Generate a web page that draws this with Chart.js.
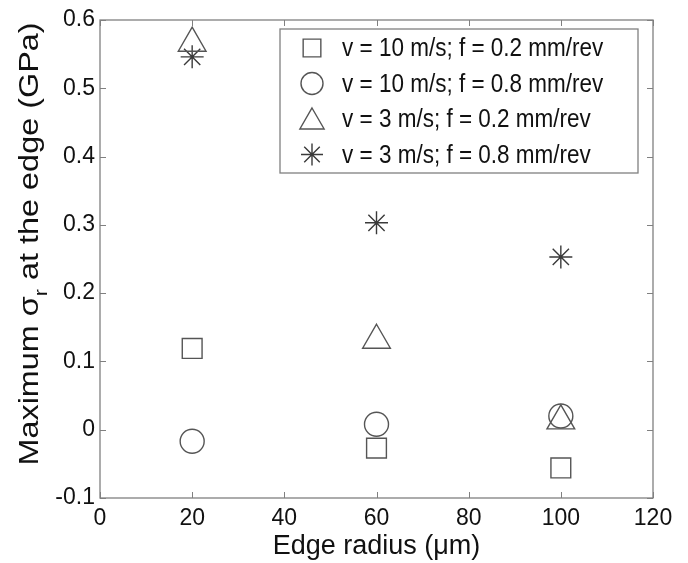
<!DOCTYPE html>
<html>
<head>
<meta charset="utf-8">
<script src="https://cdn.jsdelivr.net/npm/chart.js@4.4.1/dist/chart.umd.min.js"></script>
<style>
  html, body { margin: 0; padding: 0; background: #fff; }
  #wrap { width: 688px; height: 563px; position: relative; }
</style>
</head>
<body>
<div id="wrap"><canvas id="c" width="688" height="563"></canvas></div>
<script>
// ---- data ----
const edgeRadius = [20, 60, 100];
const seriesLabels = [
  'v = 10 m/s; f = 0.2 mm/rev',
  'v = 10 m/s; f = 0.8 mm/rev',
  'v = 3 m/s; f = 0.2 mm/rev',
  'v = 3 m/s; f = 0.8 mm/rev'
];
const v10f02 = [0.119, -0.027, -0.056];
const v10f08 = [-0.017, 0.008, 0.020];
const v3f02  = [0.566, 0.131, 0.013];
const v3f08  = [0.546, 0.303, 0.253];
const xTicks = [0, 20, 40, 60, 80, 100, 120];
const yTicks = [-0.1, 0, 0.1, 0.2, 0.3, 0.4, 0.5, 0.6];
const xTitle = 'Edge radius (\u03BCm)';
const yTitleParts = ['Maximum \u03C3', 'r', ' at the edge (GPa)'];

const FONT = 'Arial, "Liberation Sans", Helvetica, sans-serif';
const markerColor = '#555555';
const textColor = '#111111';
const axisColor = '#808080';

function toPoints(vals) { return edgeRadius.map((x, i) => ({ x: x, y: vals[i] })); }

const styles = [
  { pointStyle: 'rect', r: 14 },
  { pointStyle: 'circle', r: 12 },
  { pointStyle: 'triangle', r: 16 },
  { pointStyle: 'star', r: 11.5 }
];
const seriesVals = [v10f02, v10f08, v3f02, v3f08];

const datasets = seriesVals.map((vals, i) => ({
  label: seriesLabels[i],
  data: toPoints(vals),
  showLine: false,
  pointStyle: styles[i].pointStyle,
  pointRadius: styles[i].r,
  pointHoverRadius: styles[i].r,
  pointBorderColor: i === 3 ? '#3a3a3a' : markerColor,
  pointBackgroundColor: 'rgba(0,0,0,0)',
  pointBorderWidth: 1.4,
  borderColor: i === 3 ? '#3a3a3a' : markerColor,
  backgroundColor: 'rgba(0,0,0,0)'
}));

function drawMarker(ctx, style, r, x, y) {
  ctx.beginPath();
  if (style === 'circle') { ctx.arc(x, y, r, 0, Math.PI * 2); }
  else if (style === 'rect') { const s = r * Math.SQRT1_2; ctx.rect(x - s, y - s, 2 * s, 2 * s); }
  else if (style === 'triangle') {
    ctx.moveTo(x, y - r);
    ctx.lineTo(x + r * Math.cos(Math.PI / 6), y + r / 2);
    ctx.lineTo(x - r * Math.cos(Math.PI / 6), y + r / 2);
    ctx.closePath();
  } else if (style === 'star') {
    const d = r * Math.SQRT1_2;
    ctx.moveTo(x - r, y); ctx.lineTo(x + r, y);
    ctx.moveTo(x, y - r); ctx.lineTo(x, y + r);
    ctx.moveTo(x - d, y - d); ctx.lineTo(x + d, y + d);
    ctx.moveTo(x - d, y + d); ctx.lineTo(x + d, y - d);
  }
  ctx.stroke();
}

const framePlugin = {
  id: 'frame',
  afterDraw(chart) {
    const ctx = chart.ctx;
    const a = chart.chartArea;
    const xs = chart.scales.x, ys = chart.scales.y;
    ctx.save();
    ctx.strokeStyle = axisColor;
    ctx.lineWidth = 1.3;
    ctx.strokeRect(a.left, a.top, a.right - a.left, a.bottom - a.top);
    const tl = 6;
    ctx.beginPath();
    xTicks.forEach(v => {
      const px = Math.round(xs.getPixelForValue(v)) + 0.5;
      ctx.moveTo(px, a.bottom); ctx.lineTo(px, a.bottom - tl);
      ctx.moveTo(px, a.top); ctx.lineTo(px, a.top + tl);
    });
    yTicks.forEach(v => {
      const py = Math.round(ys.getPixelForValue(v)) + 0.5;
      ctx.moveTo(a.left, py); ctx.lineTo(a.left + tl, py);
      ctx.moveTo(a.right, py); ctx.lineTo(a.right - tl, py);
    });
    ctx.lineWidth = 1;
    ctx.stroke();

    // legend box (inside plot, upper right)
    const lx = 280, ly = 29, lw = 358, lh = 144;
    ctx.fillStyle = '#ffffff';
    ctx.fillRect(lx, ly, lw, lh);
    ctx.strokeStyle = axisColor;
    ctx.lineWidth = 1.3;
    ctx.strokeRect(lx, ly, lw, lh);
    chart.data.datasets.forEach((ds, i) => {
      const cy = ly + 19 + i * 35.5;
      ctx.strokeStyle = ds.pointBorderColor;
      ctx.lineWidth = 1.4;
      const rr = ds.pointStyle === 'triangle' ? 14 : (ds.pointStyle === 'rect' ? 12.5 : 11);
      const off = ds.pointStyle === 'triangle' ? 3 : 0;
      drawMarker(ctx, ds.pointStyle, rr, 312, cy + off);
      ctx.save();
      ctx.translate(342, cy + 1);
      ctx.scale(1, 1.15);
      ctx.font = '22.5px ' + FONT;
      ctx.textBaseline = 'middle';
      ctx.textAlign = 'left';
      ctx.fillStyle = textColor;
      ctx.fillText(ds.label, 0, 0);
      ctx.restore();
    });

    // y axis title with subscript (stretched along its length like the reference)
    ctx.save();
    ctx.translate(31, 244);
    ctx.rotate(-Math.PI / 2);
    ctx.scale(1.2, 1);
    ctx.fillStyle = textColor;
    ctx.textBaseline = 'middle';
    const big = '27px ' + FONT, small = '18px ' + FONT;
    ctx.font = big; const w0 = ctx.measureText(yTitleParts[0]).width;
    ctx.font = small; const w1 = ctx.measureText(yTitleParts[1]).width;
    ctx.font = big; const w2 = ctx.measureText(yTitleParts[2]).width;
    let x0 = -(w0 + w1 + w2) / 2;
    ctx.font = big; ctx.fillText(yTitleParts[0], x0, 0);
    ctx.font = small; ctx.fillText(yTitleParts[1], x0 + w0, 11);
    ctx.font = big; ctx.fillText(yTitleParts[2], x0 + w0 + w1, 0);
    ctx.restore();
    ctx.restore();
  }
};

new Chart(document.getElementById('c'), {
  type: 'scatter',
  data: { datasets: datasets },
  options: {
    responsive: false,
    animation: false,
    events: [],
    layout: { padding: { top: 20, right: 35, left: 0, bottom: 0 } },
    plugins: { legend: { display: false }, tooltip: { enabled: false } },
    scales: {
      x: {
        type: 'linear', min: 0, max: 120,
        afterBuildTicks: s => { s.ticks = xTicks.map(v => ({ value: v })); },
        afterFit: s => { s.height = 65; },
        grid: { display: false, drawTicks: false },
        border: { display: false },
        ticks: { color: textColor, font: { size: 23, family: FONT }, padding: 7, maxRotation: 0, autoSkip: false,
                 callback: v => String(v) },
        title: { display: true, text: xTitle, color: textColor, font: { size: 27, family: FONT }, padding: { top: 0, bottom: 0 } }
      },
      y: {
        type: 'linear', min: -0.1, max: 0.6,
        afterBuildTicks: s => { s.ticks = yTicks.map(v => ({ value: v })); },
        afterFit: s => { s.width = 100; },
        grid: { display: false, drawTicks: false },
        border: { display: false },
        ticks: { color: textColor, font: { size: 23, family: FONT }, padding: 5, autoSkip: false,
                 callback: v => { const r = Math.round(v * 10) / 10; return r === 0 ? '0' : r.toFixed(1); } }
      }
    }
  },
  plugins: [framePlugin]
});
</script>
</body>
</html>
